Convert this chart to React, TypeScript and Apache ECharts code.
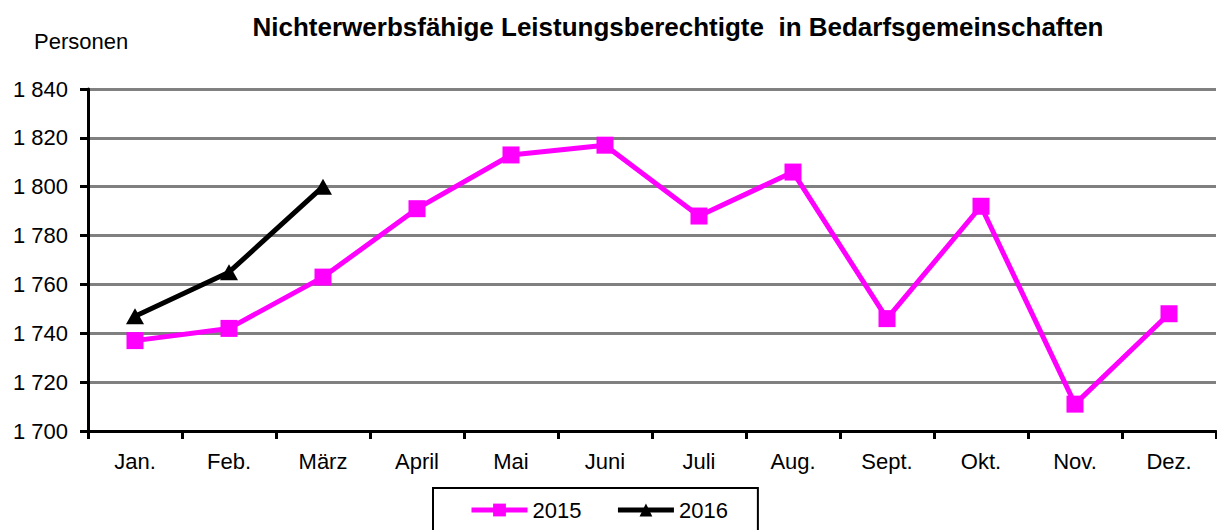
import React, { useEffect, useRef } from "react";
import * as echarts from "echarts";

const categories = ["Jan.", "Feb.", "März", "April", "Mai", "Juni", "Juli", "Aug.", "Sept.", "Okt.", "Nov.", "Dez."];
const values2015 = [1737, 1742, 1763, 1791, 1813, 1817, 1788, 1806, 1746, 1792, 1711, 1748];
const values2016 = [1747, 1765, 1800, null, null, null, null, null, null, null, null, null];
const yTicks = { min: 1700, max: 1840, interval: 20 };
const titleText = "Nichterwerbsfähige Leistungsberechtigte  in Bedarfsgemeinschaften";
const yAxisName = "Personen";

const FONT = "'Liberation Sans', Arial, sans-serif";

export default function App() {
  const ref = useRef<HTMLDivElement>(null);
  useEffect(() => {
    if (!ref.current) return;
    const chart = echarts.init(ref.current, undefined, { renderer: "svg" });
    chart.setOption({
      animation: false,
      backgroundColor: "#ffffff",
      textStyle: { fontFamily: FONT },
      title: {
        text: titleText,
        left: 673,
        textAlign: "center",
        top: 9,
        textStyle: { fontFamily: FONT, fontSize: 26, fontWeight: "bold", color: "#000" },
      },
      graphic: [
        {
          type: "text",
          left: 34,
          top: 30,
          style: { text: yAxisName, fontFamily: FONT, fontSize: 22, fill: "#000" },
        },
      ],
      legend: {
        data: ["2015", "2016"],
        left: 433,
        top: 488,
        orient: "horizontal",
        borderColor: "#000",
        borderWidth: 2,
        borderRadius: 0,
        padding: [11, 30, 30, 36],
        itemWidth: 56,
        itemHeight: 16,
        itemGap: 34,
        lineStyle: { width: 5 },
        textStyle: { fontFamily: FONT, fontSize: 22, color: "#000" },
      },
      grid: { left: 88, right: 1, top: 89, bottom: 99, containLabel: false },
      xAxis: {
        type: "category",
        data: categories,
        boundaryGap: true,
        axisLine: { show: true, lineStyle: { color: "#000", width: 3 } },
        axisTick: { show: true, length: 8, lineStyle: { color: "#000", width: 3 } },
        axisLabel: { fontFamily: FONT, fontSize: 22, color: "#000", margin: 19 },
        splitLine: { show: false },
      },
      yAxis: {
        type: "value",
        min: yTicks.min,
        max: yTicks.max,
        interval: yTicks.interval,
        axisLine: { show: true, lineStyle: { color: "#000", width: 3 } },
        axisTick: { show: true, length: 8, lineStyle: { color: "#000", width: 3 } },
        axisLabel: {
          fontFamily: FONT,
          fontSize: 22,
          color: "#000",
          margin: 20,
          formatter: (v: number) => {
            const s = String(v);
            return s.length > 3 ? s.slice(0, s.length - 3) + " " + s.slice(-3) : s;
          },
        },
        splitLine: { show: true, lineStyle: { color: "#808080", width: 3 } },
      },
      series: [
        {
          name: "2015",
          type: "line",
          data: values2015,
          symbol: "rect",
          symbolSize: 17,
          itemStyle: { color: "#ff00ff" },
          lineStyle: { color: "#ff00ff", width: 5 },
          z: 3,
        },
        {
          name: "2016",
          type: "line",
          data: values2016,
          symbol: "triangle",
          symbolSize: [18, 16],
          itemStyle: { color: "#000" },
          lineStyle: { color: "#000", width: 5 },
          z: 4,
        },
      ],
    });
    return () => chart.dispose();
  }, []);
  return (
    <div
      ref={ref}
      style={{ position: "absolute", left: 0, top: 0, width: 1217, height: 530 }}
    />
  );
}
